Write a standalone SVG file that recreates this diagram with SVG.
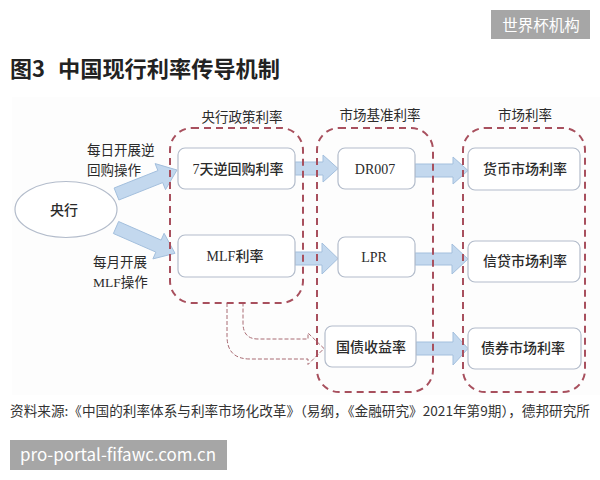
<svg xmlns="http://www.w3.org/2000/svg" width="600" height="480" viewBox="0 0 600 480">
<style>
.hdr{font-family:"Liberation Serif","Noto Sans CJK SC",serif;font-size:13.5px;fill:#2b2b2b;text-anchor:middle}
.lbl{font-family:"Liberation Serif","Noto Sans CJK SC",serif;font-size:13.5px;fill:#2b2b2b}
.bt{font-family:"Liberation Serif","Noto Sans CJK SC",serif;font-size:14px;fill:#2b2b2b;text-anchor:middle;font-weight:500}
.box{fill:#ffffff;stroke:#b3bccb;stroke-width:1.2}
.grp{fill:none;stroke:#a8505e;stroke-width:2;stroke-dasharray:7 5}
.blk{fill:#c3d8ee;stroke:#a3bfdd;stroke-width:1}
.dsh{fill:none;stroke:#a86a72;stroke-width:1;stroke-dasharray:4 2}
.wm{fill:#a6a6a6}
.wmt{font-family:"Noto Sans CJK SC","Noto Sans",sans-serif;fill:#ffffff}
.ttl{font-family:"Noto Sans CJK SC",sans-serif;font-size:22px;font-weight:bold;fill:#222}
</style>
<rect x="0" y="0" width="600" height="480" fill="#ffffff"/>
<rect x="12" y="97" width="588" height="298" fill="#fdfdfd"/>
<rect class="wm" x="491" y="10" width="99" height="29"/>
<text class="wmt" x="541" y="30.5" font-size="15.5" text-anchor="middle">世界杯机构</text>
<text class="ttl" x="10" y="77">图3</text>
<text class="ttl" x="58" y="77" textLength="222" lengthAdjust="spacingAndGlyphs">中国现行利率传导机制</text>

<g id="headers">
<text class="hdr" x="242" y="122">央行政策利率</text>
<text class="hdr" x="380" y="120">市场基准利率</text>
<text class="hdr" x="525" y="120">市场利率</text>
</g>

<g id="connectors">
<polygon class="blk" points="114.1,188 157.9,170.6 155.1,163.6 177,170 165.5,189.6 162.7,182.6 118.9,200"/>
<polygon class="blk" points="118.6,221.5 161.1,240.1 164.1,233.3 175,253.3 152.9,258.9 155.9,252.1 113.4,233.5"/>
<polygon class="blk" points="295,162 323,162 323,155 338,168.5 323,182 323,175 295,175"/>
<polygon class="blk" points="415,164 453,164 453,157 468,170.5 453,184 453,177 415,177"/>
<polygon class="blk" points="295,252 322,252 322,243 338,258.5 322,274 322,265 295,265"/>
<polygon class="blk" points="415,253 452,253 452,244 468,259 452,274 452,265 415,265"/>
<polygon class="blk" points="416,342 453,342 453,332 468,348.5 453,365 453,355 416,355"/>
<path class="dsh" d="M227,303 V336 Q227,359 250,359 H308 V364.5 L324,348.5 L308,333 V339 H258 Q243,339 243,323 V303"/>
</g>

<g id="group-policy"><rect class="grp" x="170" y="128" width="133" height="175" rx="22"/></g>
<g id="group-benchmark"><rect class="grp" x="317" y="128" width="116" height="264" rx="22"/></g>
<g id="group-market"><rect class="grp" x="463" y="128" width="122" height="264" rx="22"/></g>

<g id="node-pboc">
<ellipse cx="66" cy="209.5" rx="51" ry="28" fill="#ffffff" stroke="#b3bccb" stroke-width="1.2"/>
<text class="bt" x="64" y="214.5">央行</text>
</g>
<g id="label-daily">
<text class="lbl" x="87" y="155">每日开展逆</text>
<text class="lbl" x="87" y="175">回购操作</text>
</g>
<g id="label-monthly">
<text class="lbl" x="93" y="267">每月开展</text>
<text class="lbl" x="93" y="287">MLF操作</text>
</g>

<g id="node-7d"><rect class="box" x="178" y="148" width="117" height="41" rx="7"/><text class="bt" x="238" y="173.5">7天逆回购利率</text></g>
<g id="node-mlf"><rect class="box" x="178" y="235" width="117" height="42" rx="7"/><text class="bt" x="235" y="261">MLF利率</text></g>
<g id="node-dr007"><rect class="box" x="338" y="148" width="77" height="41" rx="7"/><text class="bt" x="375" y="173.5">DR007</text></g>
<g id="node-lpr"><rect class="box" x="338" y="237" width="77" height="40" rx="7"/><text class="bt" x="374" y="262">LPR</text></g>
<g id="node-bond-yield"><rect class="box" x="325" y="326" width="91" height="41" rx="7"/><text class="bt" x="371" y="351.5">国债收益率</text></g>
<g id="node-money"><rect class="box" x="468" y="148" width="112" height="42" rx="7"/><text class="bt" x="525" y="174">货币市场利率</text></g>
<g id="node-credit"><rect class="box" x="468" y="241" width="112" height="41" rx="7"/><text class="bt" x="525" y="266">信贷市场利率</text></g>
<g id="node-bond-market"><rect class="box" x="468" y="328" width="113" height="41" rx="7"/><text class="bt" x="523" y="353">债券市场利率</text></g>

<text x="10" y="416" font-family="Noto Sans CJK SC,sans-serif" font-size="13.3" fill="#333" textLength="580" lengthAdjust="spacingAndGlyphs">资料来源:《中国的利率体系与利率市场化改革》（易纲，《金融研究》2021年第9期），德邦研究所</text>
<rect class="wm" x="10" y="440" width="217" height="30"/>
<text class="wmt" x="20" y="461" font-size="17" textLength="196" lengthAdjust="spacingAndGlyphs">pro-portal-fifawc.com.cn</text>
</svg>
